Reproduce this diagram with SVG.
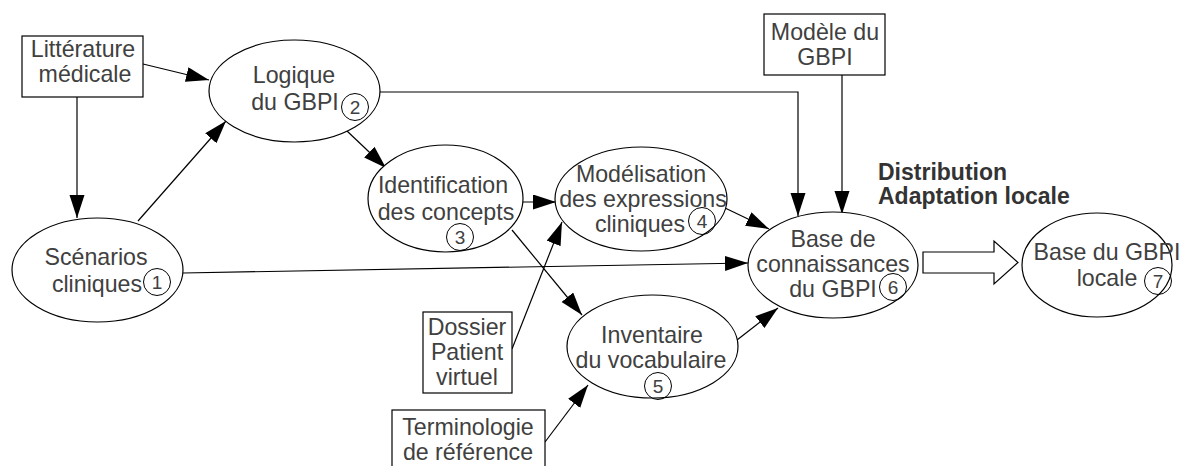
<svg xmlns="http://www.w3.org/2000/svg" width="1184" height="466" viewBox="0 0 1184 466">
<defs>
<marker id="ah" markerUnits="userSpaceOnUse" markerWidth="24" markerHeight="16" refX="23" refY="7.5" orient="auto">
<path d="M0,0 L23,7.5 L0,15 z" fill="#000"/>
</marker>
<style>
.n{fill:#fff;stroke:#000;stroke-width:1.2}
.t{font-family:"Liberation Sans",Arial,sans-serif;font-size:23.2px;fill:#404040;text-anchor:middle}
.b{font-family:"Liberation Sans",Arial,sans-serif;font-size:23px;fill:#333;font-weight:bold}
.num{font-family:"Liberation Sans",Arial,sans-serif;font-size:19px;fill:#404040;text-anchor:middle}
.c{fill:none;stroke:#000;stroke-width:1}
.e{fill:none;stroke:#000;stroke-width:1.2;marker-end:url(#ah)}
</style>
</defs>
<rect width="1184" height="466" fill="#fff"/>
<g id="connectors">
<path class="e" d="M143,64 L209,80"/>
<path class="e" d="M77,97 L77,218"/>
<path class="e" d="M138,221 L226,121"/>
<path class="e" d="M347,131 L386,168"/>
<path class="e" d="M523,202 L556,202"/>
<path class="e" d="M183,273 L748,263"/>
<path class="e" d="M380,92 L798,92 L798,216"/>
<path class="e" d="M842,75 L842,214"/>
<path class="e" d="M725,208 L769,229"/>
<path class="e" d="M512,230 L582,315"/>
<path class="e" d="M512,349 L562,222"/>
<path class="e" d="M545,442 L588,385"/>
<path class="e" d="M737,340 L778,308"/>
<polygon class="n" points="923,252 994,252 994,241 1018,262.5 994,284 994,273 923,273"/>
</g>
<g id="litterature">
<rect class="n" x="22" y="36" width="121" height="61"/>
<text class="t" x="83" y="57">Littérature</text>
<text class="t" x="85" y="82">médicale</text>
</g>
<g id="logique">
<ellipse class="n" cx="294.5" cy="91" rx="85.5" ry="51"/>
<text class="t" x="294" y="83">Logique</text>
<text class="t" x="295" y="110">du GBPI</text>
<circle class="c" cx="355" cy="107" r="13.5"/>
<text class="num" x="355" y="114">2</text>
</g>
<g id="scenarios">
<ellipse class="n" cx="97.5" cy="270" rx="85.5" ry="52"/>
<text class="t" x="96" y="265">Scénarios</text>
<text class="t" x="97" y="292">cliniques</text>
<circle class="c" cx="157" cy="282" r="13.5"/>
<text class="num" x="157" y="289">1</text>
</g>
<g id="identification">
<ellipse class="n" cx="445.5" cy="198.5" rx="77.5" ry="53.5"/>
<text class="t" x="443" y="193">Identification</text>
<text class="t" x="446" y="220">des concepts</text>
<circle class="c" cx="460" cy="237" r="13.5"/>
<text class="num" x="460" y="244">3</text>
</g>
<g id="modelisation">
<ellipse class="n" cx="641" cy="199" rx="86" ry="52"/>
<text class="t" x="641" y="182">Modélisation</text>
<text class="t" x="643" y="207">des expressions</text>
<text class="t" x="640" y="232">cliniques</text>
<circle class="c" cx="702" cy="221" r="13.5"/>
<text class="num" x="702" y="228">4</text>
</g>
<g id="inventaire">
<ellipse class="n" cx="652.5" cy="346.5" rx="85.5" ry="51.5"/>
<text class="t" x="652" y="343">Inventaire</text>
<text class="t" x="651" y="368">du vocabulaire</text>
<circle class="c" cx="658" cy="386" r="13.5"/>
<text class="num" x="658" y="393">5</text>
</g>
<g id="base">
<ellipse class="n" cx="833" cy="265" rx="85" ry="53"/>
<text class="t" x="833" y="247">Base de</text>
<text class="t" x="833" y="272">connaissances</text>
<text class="t" x="833" y="297">du GBPI</text>
<circle class="c" cx="893" cy="287" r="13.5"/>
<text class="num" x="893" y="294">6</text>
</g>
<g id="modele">
<rect class="n" x="764" y="14" width="121" height="61"/>
<text class="t" x="825" y="40">Modèle du</text>
<text class="t" x="825" y="65">GBPI</text>
</g>
<g id="locale">
<ellipse class="n" cx="1097" cy="265" rx="75" ry="52"/>
<text class="t" x="1107" y="260">Base du GBPI</text>
<text class="t" x="1107" y="286">locale</text>
<circle class="c" cx="1158" cy="281" r="13.5"/>
<text class="num" x="1158" y="288">7</text>
</g>
<g id="dossier">
<rect class="n" x="423" y="312" width="89" height="81"/>
<text class="t" x="467" y="335">Dossier</text>
<text class="t" x="467" y="360">Patient</text>
<text class="t" x="467" y="385">virtuel</text>
</g>
<g id="terminologie">
<rect class="n" x="392" y="410" width="153" height="62"/>
<text class="t" x="468" y="435">Terminologie</text>
<text class="t" x="468" y="460">de référence</text>
</g>
<g id="distribution">
<text class="b" x="878" y="180">Distribution</text>
<text class="b" x="878" y="204">Adaptation locale</text>
</g>
</svg>
